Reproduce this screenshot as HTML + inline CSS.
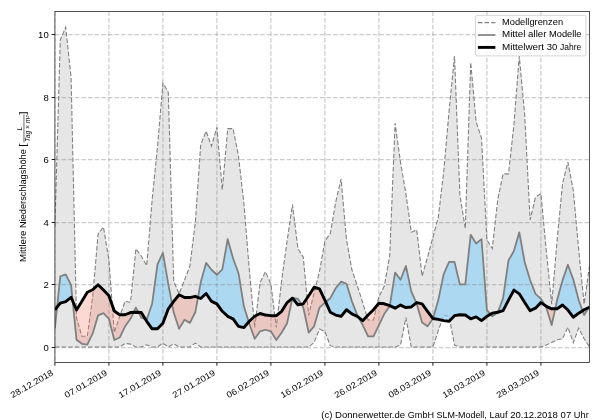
<!DOCTYPE html>
<html><head><meta charset="utf-8"><title>Mittlere Niederschlagshöhe</title>
<style>
html,body{margin:0;padding:0;background:#fff;}
body{width:600px;height:420px;overflow:hidden;}
svg{display:block;will-change:transform;}
text{font-family:"Liberation Sans",sans-serif;font-size:8.6px;fill:#000;}
</style></head><body>
<svg width="600" height="420" viewBox="0 0 600 420">
<rect x="0" y="0" width="600" height="420" fill="#fff"/>
<defs><clipPath id="ax"><rect x="54.9" y="11.5" width="534.6" height="351.0"/></clipPath></defs>
<g clip-path="url(#ax)">
<polygon points="54.90,226.36 60.30,39.92 65.70,27.12 71.10,77.40 76.50,317.87 81.90,336.29 87.30,336.29 92.70,296.63 98.10,233.86 103.50,226.99 108.90,260.09 114.30,332.55 119.70,316.31 125.10,301.32 130.50,302.25 135.90,248.85 141.30,256.03 146.70,265.71 152.10,200.13 157.50,146.73 162.90,83.02 168.30,92.39 173.70,281.02 179.10,293.82 184.50,280.08 189.90,266.03 195.30,222.62 200.70,144.85 206.10,131.11 211.50,146.10 216.90,127.37 222.30,189.83 227.70,128.61 233.10,128.61 238.50,156.10 243.90,203.25 249.30,269.77 254.70,327.55 260.10,282.58 265.50,271.65 270.90,284.14 276.30,327.55 281.70,280.08 287.10,241.04 292.50,204.50 297.90,248.54 303.30,257.28 308.70,315.37 314.10,292.57 319.50,271.65 324.90,241.04 330.30,233.55 335.70,202.01 341.10,178.89 346.50,239.79 351.90,269.77 357.30,285.70 362.70,302.57 368.10,320.05 373.50,320.05 378.90,296.63 384.30,286.01 389.70,256.03 395.10,122.99 400.50,162.34 405.90,193.57 411.30,232.30 416.70,229.80 422.10,276.02 427.50,257.28 432.90,237.30 438.30,217.31 443.70,171.71 449.10,111.13 454.50,56.16 459.90,195.13 465.30,228.55 470.70,62.41 476.10,121.74 481.50,137.98 486.90,239.79 492.30,248.54 497.70,199.82 503.10,173.90 508.50,173.90 513.90,124.87 519.30,56.16 524.70,114.87 530.10,219.81 535.50,197.32 540.90,193.57 546.30,251.04 551.70,304.13 557.10,240.42 562.50,183.89 567.90,162.03 573.30,190.45 578.70,249.79 584.10,304.13 589.50,266.03 589.50,347.04 584.10,338.79 578.70,328.17 573.30,342.54 567.90,327.24 562.50,338.79 557.10,339.73 551.70,342.54 546.30,345.04 540.90,347.04 535.50,347.04 530.10,347.04 524.70,347.04 519.30,347.04 513.90,347.04 508.50,347.04 503.10,347.04 497.70,347.04 492.30,347.04 486.90,347.04 481.50,347.04 476.10,347.04 470.70,347.04 465.30,347.04 459.90,347.04 454.50,345.04 449.10,316.31 443.70,315.37 438.30,330.67 432.90,347.04 427.50,347.04 422.10,347.04 416.70,347.04 411.30,347.04 405.90,317.56 400.50,345.04 395.10,347.04 389.70,347.04 384.30,347.04 378.90,347.04 373.50,347.04 368.10,347.04 362.70,347.04 357.30,347.04 351.90,347.04 346.50,347.04 341.10,347.04 335.70,347.04 330.30,345.66 324.90,331.61 319.50,329.11 314.10,342.54 308.70,347.04 303.30,347.04 297.90,347.04 292.50,347.04 287.10,347.04 281.70,347.04 276.30,347.04 270.90,347.04 265.50,347.04 260.10,347.04 254.70,347.04 249.30,347.04 243.90,347.04 238.50,347.04 233.10,347.04 227.70,347.04 222.30,347.04 216.90,347.04 211.50,347.04 206.10,347.04 200.70,347.04 195.30,343.16 189.90,347.04 184.50,347.04 179.10,347.04 173.70,343.79 168.30,347.04 162.90,343.16 157.50,347.04 152.10,347.04 146.70,344.73 141.30,347.04 135.90,347.04 130.50,344.10 125.10,343.48 119.70,347.04 114.30,347.04 108.90,347.04 103.50,347.04 98.10,347.04 92.70,347.04 87.30,347.04 81.90,347.04 76.50,347.04 71.10,347.04 65.70,347.04 60.30,347.04 54.90,347.04" fill="#808080" fill-opacity="0.2"/>
<polyline points="54.90,226.36 60.30,39.92 65.70,27.12 71.10,77.40 76.50,317.87 81.90,336.29 87.30,336.29 92.70,296.63 98.10,233.86 103.50,226.99 108.90,260.09 114.30,332.55 119.70,316.31 125.10,301.32 130.50,302.25 135.90,248.85 141.30,256.03 146.70,265.71 152.10,200.13 157.50,146.73 162.90,83.02 168.30,92.39 173.70,281.02 179.10,293.82 184.50,280.08 189.90,266.03 195.30,222.62 200.70,144.85 206.10,131.11 211.50,146.10 216.90,127.37 222.30,189.83 227.70,128.61 233.10,128.61 238.50,156.10 243.90,203.25 249.30,269.77 254.70,327.55 260.10,282.58 265.50,271.65 270.90,284.14 276.30,327.55 281.70,280.08 287.10,241.04 292.50,204.50 297.90,248.54 303.30,257.28 308.70,315.37 314.10,292.57 319.50,271.65 324.90,241.04 330.30,233.55 335.70,202.01 341.10,178.89 346.50,239.79 351.90,269.77 357.30,285.70 362.70,302.57 368.10,320.05 373.50,320.05 378.90,296.63 384.30,286.01 389.70,256.03 395.10,122.99 400.50,162.34 405.90,193.57 411.30,232.30 416.70,229.80 422.10,276.02 427.50,257.28 432.90,237.30 438.30,217.31 443.70,171.71 449.10,111.13 454.50,56.16 459.90,195.13 465.30,228.55 470.70,62.41 476.10,121.74 481.50,137.98 486.90,239.79 492.30,248.54 497.70,199.82 503.10,173.90 508.50,173.90 513.90,124.87 519.30,56.16 524.70,114.87 530.10,219.81 535.50,197.32 540.90,193.57 546.30,251.04 551.70,304.13 557.10,240.42 562.50,183.89 567.90,162.03 573.30,190.45 578.70,249.79 584.10,304.13 589.50,266.03" fill="none" stroke="#808080" stroke-width="1.1" stroke-dasharray="4.62 2"/>
<polyline points="54.90,347.04 60.30,347.04 65.70,347.04 71.10,347.04 76.50,347.04 81.90,347.04 87.30,347.04 92.70,347.04 98.10,347.04 103.50,347.04 108.90,347.04 114.30,347.04 119.70,347.04 125.10,343.48 130.50,344.10 135.90,347.04 141.30,347.04 146.70,344.73 152.10,347.04 157.50,347.04 162.90,343.16 168.30,347.04 173.70,343.79 179.10,347.04 184.50,347.04 189.90,347.04 195.30,343.16 200.70,347.04 206.10,347.04 211.50,347.04 216.90,347.04 222.30,347.04 227.70,347.04 233.10,347.04 238.50,347.04 243.90,347.04 249.30,347.04 254.70,347.04 260.10,347.04 265.50,347.04 270.90,347.04 276.30,347.04 281.70,347.04 287.10,347.04 292.50,347.04 297.90,347.04 303.30,347.04 308.70,347.04 314.10,342.54 319.50,329.11 324.90,331.61 330.30,345.66 335.70,347.04 341.10,347.04 346.50,347.04 351.90,347.04 357.30,347.04 362.70,347.04 368.10,347.04 373.50,347.04 378.90,347.04 384.30,347.04 389.70,347.04 395.10,347.04 400.50,345.04 405.90,317.56 411.30,347.04 416.70,347.04 422.10,347.04 427.50,347.04 432.90,347.04 438.30,330.67 443.70,315.37 449.10,316.31 454.50,345.04 459.90,347.04 465.30,347.04 470.70,347.04 476.10,347.04 481.50,347.04 486.90,347.04 492.30,347.04 497.70,347.04 503.10,347.04 508.50,347.04 513.90,347.04 519.30,347.04 524.70,347.04 530.10,347.04 535.50,347.04 540.90,347.04 546.30,345.04 551.70,342.54 557.10,339.73 562.50,338.79 567.90,327.24 573.30,342.54 578.70,328.17 584.10,338.79 589.50,347.04" fill="none" stroke="#808080" stroke-width="1.1" stroke-dasharray="4.62 2"/>
<polygon points="54.90,328.49 57.12,307.05 57.12,307.05 54.90,309.75" fill="#fa8072" fill-opacity="0.3"/>
<polygon points="57.12,307.05 60.30,276.33 65.70,274.46 71.10,285.08 72.67,300.98 72.67,300.98 71.10,297.26 65.70,301.63 60.30,303.19 57.12,307.05" fill="#87cefa" fill-opacity="0.6"/>
<polygon points="72.67,300.98 76.50,339.73 81.90,343.79 87.30,344.73 92.70,333.48 98.10,315.37 103.50,313.18 108.90,318.81 114.30,340.04 119.70,337.54 125.10,326.30 130.50,318.81 133.59,312.38 133.59,312.38 130.50,312.56 125.10,314.75 119.70,314.75 114.30,311.00 108.90,295.70 103.50,290.07 98.10,284.76 92.70,289.76 87.30,292.26 81.90,301.32 76.50,310.06 72.67,300.98" fill="#fa8072" fill-opacity="0.3"/>
<polygon points="133.59,312.38 135.90,307.56 138.51,312.40 138.51,312.40 135.90,312.25 133.59,312.38" fill="#87cefa" fill-opacity="0.6"/>
<polygon points="138.51,312.40 141.30,317.56 145.41,319.22 145.41,319.22 141.30,312.56 138.51,312.40" fill="#fa8072" fill-opacity="0.3"/>
<polygon points="145.41,319.22 146.70,319.74 152.10,303.81 157.50,264.47 162.90,252.91 168.30,284.14 172.01,303.66 172.01,303.66 168.30,308.81 162.90,323.18 157.50,328.80 152.10,328.80 146.70,321.30 145.41,319.22" fill="#87cefa" fill-opacity="0.6"/>
<polygon points="172.01,303.66 173.70,312.56 179.10,328.80 184.50,319.74 189.90,322.87 195.30,312.25 198.00,297.41 198.00,297.41 195.30,296.32 189.90,297.57 184.50,297.57 179.10,294.76 173.70,301.32 172.01,303.66" fill="#fa8072" fill-opacity="0.3"/>
<polygon points="198.00,297.41 200.70,282.58 206.10,262.90 211.50,269.77 216.90,274.77 222.30,269.46 227.70,239.17 233.10,258.53 238.50,273.21 243.90,306.31 248.73,321.96 248.73,321.96 243.90,327.55 238.50,326.30 233.10,318.81 227.70,316.31 222.30,311.31 216.90,303.81 211.50,301.32 206.10,293.51 200.70,298.51 198.00,297.41" fill="#87cefa" fill-opacity="0.6"/>
<polygon points="248.73,321.96 249.30,323.80 254.70,338.79 260.10,331.30 265.50,329.74 270.90,331.30 276.30,340.04 281.70,332.55 287.10,323.18 292.34,298.32 292.34,298.32 287.10,302.57 281.70,311.31 276.30,315.68 270.90,315.68 265.50,315.06 260.10,313.50 254.70,316.31 249.30,321.30 248.73,321.96" fill="#fa8072" fill-opacity="0.3"/>
<polygon points="292.34,298.32 292.50,297.57 297.90,298.82 301.21,304.18 301.21,304.18 297.90,304.75 292.50,298.19 292.34,298.32" fill="#87cefa" fill-opacity="0.6"/>
<polygon points="301.21,304.18 303.30,307.56 308.70,332.55 314.10,326.30 319.50,307.56 324.90,302.57 325.72,301.91 325.72,301.91 324.90,300.07 319.50,288.82 314.10,287.26 308.70,295.70 303.30,303.81 301.21,304.18" fill="#fa8072" fill-opacity="0.3"/>
<polygon points="325.72,301.91 330.30,298.19 335.70,288.20 341.10,281.64 346.50,283.83 351.90,301.32 357.30,315.06 358.50,317.28 358.50,317.28 357.30,316.31 351.90,313.81 346.50,309.75 341.10,316.31 335.70,315.06 330.30,312.25 325.72,301.91" fill="#87cefa" fill-opacity="0.6"/>
<polygon points="358.50,317.28 362.70,325.05 368.10,336.29 373.50,336.29 378.90,325.05 384.30,313.81 389.70,306.31 389.79,305.73 389.79,305.73 389.70,305.69 384.30,303.81 378.90,303.19 373.50,309.75 368.10,315.06 362.70,320.68 358.50,317.28" fill="#fa8072" fill-opacity="0.3"/>
<polygon points="389.79,305.73 395.10,272.58 400.50,279.77 405.90,266.03 411.30,291.32 416.30,302.89 416.30,302.89 411.30,306.94 405.90,307.56 400.50,305.06 395.10,308.19 389.79,305.73" fill="#87cefa" fill-opacity="0.6"/>
<polygon points="416.30,302.89 416.70,303.81 422.10,322.55 427.50,326.30 432.90,318.81 432.99,318.51 432.99,318.51 432.90,318.49 427.50,311.31 422.10,303.81 416.70,302.57 416.30,302.89" fill="#fa8072" fill-opacity="0.3"/>
<polygon points="432.99,318.51 438.30,300.07 443.70,274.15 449.10,261.97 454.50,261.97 459.90,284.45 465.30,284.45 470.70,234.80 476.10,243.54 481.50,239.17 486.90,310.06 490.50,314.22 490.50,314.22 486.90,316.31 481.50,320.68 476.10,316.93 470.70,318.81 465.30,315.06 459.90,314.75 454.50,315.68 449.10,321.30 443.70,320.68 438.30,319.43 432.99,318.51" fill="#87cefa" fill-opacity="0.6"/>
<polygon points="490.50,314.22 492.30,316.31 497.70,312.56 497.83,312.21 497.83,312.21 497.70,312.25 492.30,313.18 490.50,314.22" fill="#fa8072" fill-opacity="0.3"/>
<polygon points="497.83,312.21 503.10,298.19 508.50,260.41 513.90,251.04 519.30,232.30 524.70,262.28 530.10,280.08 535.50,293.82 540.90,298.82 544.95,305.38 544.95,305.38 540.90,302.57 535.50,308.19 530.10,310.69 524.70,302.57 519.30,293.82 513.90,290.07 508.50,300.07 503.10,310.69 497.83,312.21" fill="#87cefa" fill-opacity="0.6"/>
<polygon points="544.95,305.38 546.30,307.56 551.70,325.05 555.21,308.81 555.21,308.81 551.70,308.81 546.30,306.31 544.95,305.38" fill="#fa8072" fill-opacity="0.3"/>
<polygon points="555.21,308.81 557.10,300.07 562.50,280.39 567.90,264.78 573.30,279.46 578.70,300.07 582.54,310.74 582.54,310.74 578.70,313.18 573.30,317.24 567.90,310.06 562.50,305.06 557.10,308.81 555.21,308.81" fill="#87cefa" fill-opacity="0.6"/>
<polygon points="582.54,310.74 584.10,315.06 588.69,307.62 588.69,307.62 584.10,309.75 582.54,310.74" fill="#fa8072" fill-opacity="0.3"/>
<polygon points="588.69,307.62 589.50,306.31 589.50,307.25 588.69,307.62" fill="#87cefa" fill-opacity="0.6"/>
<g stroke="#808080" stroke-opacity="0.4" stroke-width="1.25" stroke-dasharray="4.62 2" fill="none">
<line x1="54.90" y1="11.5" x2="54.90" y2="362.5"/>
<line x1="108.90" y1="11.5" x2="108.90" y2="362.5"/>
<line x1="162.90" y1="11.5" x2="162.90" y2="362.5"/>
<line x1="216.90" y1="11.5" x2="216.90" y2="362.5"/>
<line x1="270.90" y1="11.5" x2="270.90" y2="362.5"/>
<line x1="324.90" y1="11.5" x2="324.90" y2="362.5"/>
<line x1="378.90" y1="11.5" x2="378.90" y2="362.5"/>
<line x1="432.90" y1="11.5" x2="432.90" y2="362.5"/>
<line x1="486.90" y1="11.5" x2="486.90" y2="362.5"/>
<line x1="540.90" y1="11.5" x2="540.90" y2="362.5"/>
<line x1="54.9" y1="347.50" x2="589.5" y2="347.50"/>
<line x1="54.9" y1="284.50" x2="589.5" y2="284.50"/>
<line x1="54.9" y1="222.50" x2="589.5" y2="222.50"/>
<line x1="54.9" y1="159.50" x2="589.5" y2="159.50"/>
<line x1="54.9" y1="97.50" x2="589.5" y2="97.50"/>
<line x1="54.9" y1="34.50" x2="589.5" y2="34.50"/>
</g>
<polyline points="54.90,328.49 60.30,276.33 65.70,274.46 71.10,285.08 76.50,339.73 81.90,343.79 87.30,344.73 92.70,333.48 98.10,315.37 103.50,313.18 108.90,318.81 114.30,340.04 119.70,337.54 125.10,326.30 130.50,318.81 135.90,307.56 141.30,317.56 146.70,319.74 152.10,303.81 157.50,264.47 162.90,252.91 168.30,284.14 173.70,312.56 179.10,328.80 184.50,319.74 189.90,322.87 195.30,312.25 200.70,282.58 206.10,262.90 211.50,269.77 216.90,274.77 222.30,269.46 227.70,239.17 233.10,258.53 238.50,273.21 243.90,306.31 249.30,323.80 254.70,338.79 260.10,331.30 265.50,329.74 270.90,331.30 276.30,340.04 281.70,332.55 287.10,323.18 292.50,297.57 297.90,298.82 303.30,307.56 308.70,332.55 314.10,326.30 319.50,307.56 324.90,302.57 330.30,298.19 335.70,288.20 341.10,281.64 346.50,283.83 351.90,301.32 357.30,315.06 362.70,325.05 368.10,336.29 373.50,336.29 378.90,325.05 384.30,313.81 389.70,306.31 395.10,272.58 400.50,279.77 405.90,266.03 411.30,291.32 416.70,303.81 422.10,322.55 427.50,326.30 432.90,318.81 438.30,300.07 443.70,274.15 449.10,261.97 454.50,261.97 459.90,284.45 465.30,284.45 470.70,234.80 476.10,243.54 481.50,239.17 486.90,310.06 492.30,316.31 497.70,312.56 503.10,298.19 508.50,260.41 513.90,251.04 519.30,232.30 524.70,262.28 530.10,280.08 535.50,293.82 540.90,298.82 546.30,307.56 551.70,325.05 557.10,300.07 562.50,280.39 567.90,264.78 573.30,279.46 578.70,300.07 584.10,315.06 589.50,306.31" fill="none" stroke="#808080" stroke-width="1.8" stroke-linejoin="round"/>
<polyline points="54.90,309.75 60.30,303.19 65.70,301.63 71.10,297.26 76.50,310.06 81.90,301.32 87.30,292.26 92.70,289.76 98.10,284.76 103.50,290.07 108.90,295.70 114.30,311.00 119.70,314.75 125.10,314.75 130.50,312.56 135.90,312.25 141.30,312.56 146.70,321.30 152.10,328.80 157.50,328.80 162.90,323.18 168.30,308.81 173.70,301.32 179.10,294.76 184.50,297.57 189.90,297.57 195.30,296.32 200.70,298.51 206.10,293.51 211.50,301.32 216.90,303.81 222.30,311.31 227.70,316.31 233.10,318.81 238.50,326.30 243.90,327.55 249.30,321.30 254.70,316.31 260.10,313.50 265.50,315.06 270.90,315.68 276.30,315.68 281.70,311.31 287.10,302.57 292.50,298.19 297.90,304.75 303.30,303.81 308.70,295.70 314.10,287.26 319.50,288.82 324.90,300.07 330.30,312.25 335.70,315.06 341.10,316.31 346.50,309.75 351.90,313.81 357.30,316.31 362.70,320.68 368.10,315.06 373.50,309.75 378.90,303.19 384.30,303.81 389.70,305.69 395.10,308.19 400.50,305.06 405.90,307.56 411.30,306.94 416.70,302.57 422.10,303.81 427.50,311.31 432.90,318.49 438.30,319.43 443.70,320.68 449.10,321.30 454.50,315.68 459.90,314.75 465.30,315.06 470.70,318.81 476.10,316.93 481.50,320.68 486.90,316.31 492.30,313.18 497.70,312.25 503.10,310.69 508.50,300.07 513.90,290.07 519.30,293.82 524.70,302.57 530.10,310.69 535.50,308.19 540.90,302.57 546.30,306.31 551.70,308.81 557.10,308.81 562.50,305.06 567.90,310.06 573.30,317.24 578.70,313.18 584.10,309.75 589.50,307.25" fill="none" stroke="#000" stroke-width="2.9" stroke-linejoin="round"/>
</g>
<rect x="54.9" y="11.5" width="534.6" height="351.0" fill="none" stroke="#000" stroke-opacity="0.85" stroke-width="0.8"/>
<g stroke="#000" stroke-opacity="0.9" stroke-width="1">
<line x1="54.90" y1="362.5" x2="54.90" y2="365.7"/>
<line x1="108.90" y1="362.5" x2="108.90" y2="365.7"/>
<line x1="162.90" y1="362.5" x2="162.90" y2="365.7"/>
<line x1="216.90" y1="362.5" x2="216.90" y2="365.7"/>
<line x1="270.90" y1="362.5" x2="270.90" y2="365.7"/>
<line x1="324.90" y1="362.5" x2="324.90" y2="365.7"/>
<line x1="378.90" y1="362.5" x2="378.90" y2="365.7"/>
<line x1="432.90" y1="362.5" x2="432.90" y2="365.7"/>
<line x1="486.90" y1="362.5" x2="486.90" y2="365.7"/>
<line x1="540.90" y1="362.5" x2="540.90" y2="365.7"/>
<line x1="51.699999999999996" y1="347.50" x2="54.9" y2="347.50"/>
<line x1="51.699999999999996" y1="284.50" x2="54.9" y2="284.50"/>
<line x1="51.699999999999996" y1="222.50" x2="54.9" y2="222.50"/>
<line x1="51.699999999999996" y1="159.50" x2="54.9" y2="159.50"/>
<line x1="51.699999999999996" y1="97.50" x2="54.9" y2="97.50"/>
<line x1="51.699999999999996" y1="34.50" x2="54.9" y2="34.50"/>
</g>
<g>
<text x="48.7" y="350.70" text-anchor="end" textLength="5.3" lengthAdjust="spacingAndGlyphs">0</text>
<text x="48.7" y="287.70" text-anchor="end" textLength="5.3" lengthAdjust="spacingAndGlyphs">2</text>
<text x="48.7" y="225.70" text-anchor="end" textLength="5.3" lengthAdjust="spacingAndGlyphs">4</text>
<text x="48.7" y="162.70" text-anchor="end" textLength="5.3" lengthAdjust="spacingAndGlyphs">6</text>
<text x="48.7" y="100.70" text-anchor="end" textLength="5.3" lengthAdjust="spacingAndGlyphs">8</text>
<text x="48.7" y="37.70" text-anchor="end" textLength="10.6" lengthAdjust="spacingAndGlyphs">10</text>
<text transform="translate(53.90,374.5) rotate(-30)" text-anchor="end" textLength="47.7" lengthAdjust="spacingAndGlyphs">28.12.2018</text>
<text transform="translate(107.90,374.5) rotate(-30)" text-anchor="end" textLength="47.7" lengthAdjust="spacingAndGlyphs">07.01.2019</text>
<text transform="translate(161.90,374.5) rotate(-30)" text-anchor="end" textLength="47.7" lengthAdjust="spacingAndGlyphs">17.01.2019</text>
<text transform="translate(215.90,374.5) rotate(-30)" text-anchor="end" textLength="47.7" lengthAdjust="spacingAndGlyphs">27.01.2019</text>
<text transform="translate(269.90,374.5) rotate(-30)" text-anchor="end" textLength="47.7" lengthAdjust="spacingAndGlyphs">06.02.2019</text>
<text transform="translate(323.90,374.5) rotate(-30)" text-anchor="end" textLength="47.7" lengthAdjust="spacingAndGlyphs">16.02.2019</text>
<text transform="translate(377.90,374.5) rotate(-30)" text-anchor="end" textLength="47.7" lengthAdjust="spacingAndGlyphs">26.02.2019</text>
<text transform="translate(431.90,374.5) rotate(-30)" text-anchor="end" textLength="47.7" lengthAdjust="spacingAndGlyphs">08.03.2019</text>
<text transform="translate(485.90,374.5) rotate(-30)" text-anchor="end" textLength="47.7" lengthAdjust="spacingAndGlyphs">18.03.2019</text>
<text transform="translate(539.90,374.5) rotate(-30)" text-anchor="end" textLength="47.7" lengthAdjust="spacingAndGlyphs">28.03.2019</text>
</g>
<!-- y label -->
<g transform="translate(26.35,262.05) rotate(-90)">
<text x="0.00" y="0" textLength="31.50" lengthAdjust="spacingAndGlyphs">Mittlere</text>
<text x="34.12" y="0" textLength="78.69" lengthAdjust="spacingAndGlyphs">Niederschlagshöhe</text>
<text x="115.43" y="0" textLength="3.22" lengthAdjust="spacingAndGlyphs">[</text>
<line x1="119.7" y1="-2.4" x2="147.5" y2="-2.4" stroke="#000" stroke-width="0.6"/>
<text x="133.4" y="-4.0" text-anchor="middle" style="font-size:6.5px;font-style:italic">L</text>
<text x="133.4" y="3.2" text-anchor="middle" textLength="26" lengthAdjust="spacingAndGlyphs" style="font-size:6.5px;font-style:italic">Tag × m²</text>
<text x="147.3" y="0" textLength="3.2" lengthAdjust="spacingAndGlyphs">]</text>
</g>
<!-- legend -->
<rect x="475.6" y="15.3" width="110.4" height="40.6" rx="1.7" ry="1.7" fill="#fff" fill-opacity="0.8" stroke="#ccc" stroke-width="0.85"/>
<line x1="477.9" y1="22.6" x2="495.4" y2="22.6" stroke="#808080" stroke-width="1.1" stroke-dasharray="4.62 2"/>
<line x1="477.9" y1="35.0" x2="495.4" y2="35.0" stroke="#808080" stroke-width="1.7"/>
<line x1="477.9" y1="47.4" x2="495.4" y2="47.4" stroke="#000" stroke-width="2.9"/>
<text x="502.00" y="25.0" textLength="61.06" lengthAdjust="spacingAndGlyphs">Modellgrenzen</text>
<text x="502.00" y="37.4" textLength="23.48" lengthAdjust="spacingAndGlyphs">Mittel</text>
<text x="528.13" y="37.4" textLength="18.29" lengthAdjust="spacingAndGlyphs">aller</text>
<text x="549.07" y="37.4" textLength="32.46" lengthAdjust="spacingAndGlyphs">Modelle</text>
<text x="502.00" y="49.7" textLength="42.12" lengthAdjust="spacingAndGlyphs">Mittelwert</text>
<text x="546.77" y="49.7" textLength="10.60" lengthAdjust="spacingAndGlyphs">30</text>
<text x="560.02" y="49.7" textLength="21.22" lengthAdjust="spacingAndGlyphs">Jahre</text>
<!-- footer -->
<text x="321.30" y="418.4" textLength="11.10" lengthAdjust="spacingAndGlyphs">(c)</text>
<text x="335.06" y="418.4" textLength="70.09" lengthAdjust="spacingAndGlyphs">Donnerwetter.de</text>
<text x="407.81" y="418.4" textLength="26.18" lengthAdjust="spacingAndGlyphs">GmbH</text>
<text x="436.64" y="418.4" textLength="50.21" lengthAdjust="spacingAndGlyphs">SLM-Modell,</text>
<text x="489.50" y="418.4" textLength="18.00" lengthAdjust="spacingAndGlyphs">Lauf</text>
<text x="510.15" y="418.4" textLength="47.80" lengthAdjust="spacingAndGlyphs">20.12.2018</text>
<text x="560.61" y="418.4" textLength="10.62" lengthAdjust="spacingAndGlyphs">07</text>
<text x="573.88" y="418.4" textLength="14.84" lengthAdjust="spacingAndGlyphs">Uhr</text>
</svg>
</body></html>
